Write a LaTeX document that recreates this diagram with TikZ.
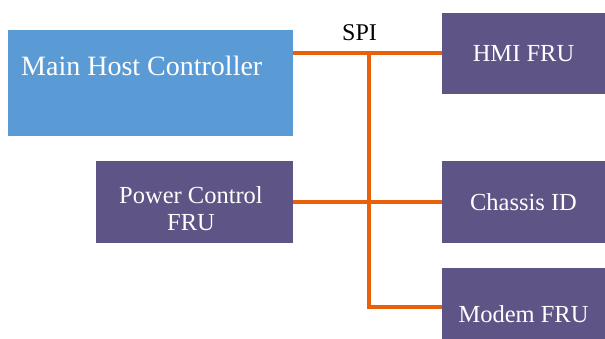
\documentclass[tikz,border=0pt]{standalone}
\usepackage{fontspec}
\setmainfont{Liberation Serif}
\definecolor{hostblue}{HTML}{5B9BD5}
\definecolor{frupurple}{HTML}{5E5586}
\definecolor{spiorange}{HTML}{E8600A}
\begin{document}
\begin{tikzpicture}[x=1pt,y=-1pt,
  hostbox/.style={draw=none,fill=hostblue,inner sep=0pt},
  frubox/.style={draw=none,fill=frupurple,inner sep=0pt,text=white,font=\fontsize{24.5}{29}\selectfont,align=center},
  boxtext/.style={text=white,inner sep=0pt,align=center},
  spi/.style={draw=spiorange,line width=4pt}]
\useasboundingbox (0,0) rectangle (605,338);
\node[hostbox,minimum width=285,minimum height=106] (mhc) at (150.5,83) {};
\node[boxtext,anchor=base west,font=\fontsize{28}{33}\selectfont] (mhct) at (21,75) {Main Host Controller};
\node[frubox,minimum width=197,minimum height=82] (pc) at (194.5,202) {};
\node[boxtext,font=\fontsize{24.5}{29}\selectfont] (pct) at (191,209) {Power Control\\[-2pt]FRU};
\node[frubox,minimum width=163,minimum height=81] (hmi) at (523.5,53.5) {HMI FRU};
\node[frubox,minimum width=163,minimum height=82] (chassis) at (523.5,202) {Chassis ID};
\node[frubox,minimum width=163,minimum height=92] (modem) at (523.5,314) {Modem FRU};
\node[anchor=base,inner sep=0pt,font=\fontsize{24}{29}\selectfont] (spil) at (359.5,40) {SPI};
\coordinate (bus) at (369,53);
\coordinate (busend) at (369,307);
\draw[spi] (bus -| mhc.east) -- (bus -| hmi.west);
\draw[spi] (bus) -- (busend) -- (busend -| modem.west);
\draw[spi] (pc.east) -- (chassis.west);
\end{tikzpicture}
\end{document}
